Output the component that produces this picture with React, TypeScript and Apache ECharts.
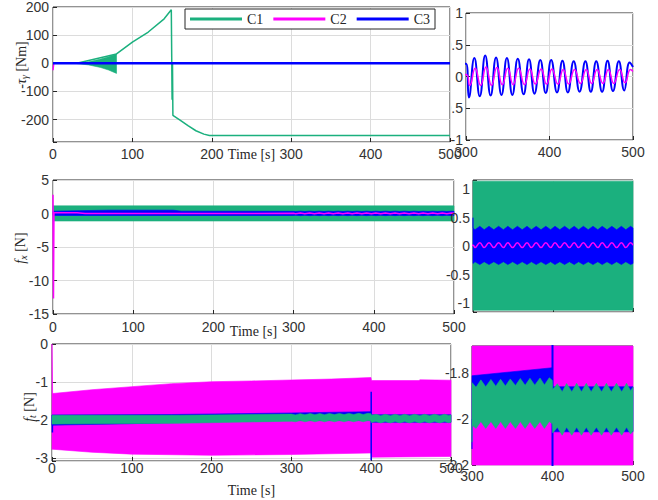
import React, { useEffect, useRef } from 'react';
import * as echarts from 'echarts';

const GREEN = '#1BB07E';
const MAGENTA = '#FF00FF';
const BLUE = '#0000FF';
const INK = '#262626';
const LABEL_INK = '#333333';

// ---------- Top panel: tau_gamma [Nm] ----------
const C1_TAU = [[0, 0], [30, 0], [80, 33], [100, 75], [120, 111], [140, 158], [149, 190], [150, -130], [150.5, 0], [151, -185], [160, -202], [170, -222], [180, -240], [190, -252], [197, -257], [500, -257]];
const C1_TAU_BAND_HI = [[30, 1], [45, 5], [60, 15], [70, 23], [80, 33]];
const C1_TAU_BAND_LO = [[30, -1], [45, -6], [60, -15], [70, -24], [80, -36]];
const C2_TAU_LEAD = [[0, -25], [1, 0]];
const C3_TAU_LEAD = [[0, 0]];
const TAU_T3 = [300, 303.5, 310, 316.5, 323, 329.5, 336, 342.5, 349, 355.5, 362, 369, 375.5, 382, 389, 395.5, 402, 409, 415.5, 422, 429, 436, 443, 449.5, 456, 463, 469.5, 476, 483, 489.5, 496, 500];
const C3_TAU_OSC = [0.2, -0.33, 0.29, -0.31, 0.33, -0.3, 0.3, -0.29, 0.29, -0.29, 0.28, -0.28, 0.27, -0.27, 0.26, -0.26, 0.26, -0.25, 0.25, -0.25, 0.24, -0.24, 0.24, -0.24, 0.24, -0.24, 0.25, -0.23, 0.24, -0.22, 0.22, 0.15];
const TAU_T2 = [300, 304.5, 311, 317.5, 324, 330.5, 337, 343.5, 350, 356.5, 363, 370, 376.5, 383, 390, 396.5, 403, 410, 416.5, 423, 430, 437, 444, 450.5, 457, 464, 470.5, 477, 484, 490.5, 497, 500];
const C2_TAU_OSC = [0.03, -0.14, 0.13, -0.14, 0.15, -0.14, 0.14, -0.13, 0.13, -0.13, 0.13, -0.13, 0.12, -0.12, 0.12, -0.12, 0.12, -0.12, 0.11, -0.12, 0.11, -0.11, 0.11, -0.11, 0.11, -0.11, 0.11, -0.11, 0.11, -0.1, 0.11, 0.08];

// ---------- Middle panel: f_x [N] ----------
const C1_FX_HI = [[0, 1.14], [500, 1.14]];
const C1_FX_LO = [[0, -1.12], [500, -1.12]];
const FX_T = [300, 302.5, 308.5, 314, 320, 326, 332, 338, 343.5, 349.5, 355.5, 361.5, 367.5, 373, 379, 385, 391, 397, 402.5, 408.5, 414.5, 420.5, 426.5, 432, 438, 444, 450, 456, 461.5, 467.5, 473.5, 479.5, 485.5, 491, 497, 500];
const C3_FX_HI_LEAD = [[0, 0.35], [70, 0.5], [150, 0.5], [160, 0.35]];
const C3_FX_HI_OSC = [0.32, 0.29, 0.35, 0.29, 0.35, 0.29, 0.35, 0.29, 0.35, 0.29, 0.35, 0.29, 0.35, 0.29, 0.35, 0.29, 0.35, 0.29, 0.35, 0.29, 0.35, 0.29, 0.35, 0.29, 0.35, 0.29, 0.35, 0.29, 0.35, 0.29, 0.35, 0.29, 0.35, 0.29, 0.35, 0.32];
const C3_FX_LO_LEAD = [[0, -0.3], [160, -0.3]];
const C3_FX_LO_OSC = [-0.3, -0.27, -0.32, -0.27, -0.32, -0.27, -0.32, -0.27, -0.32, -0.27, -0.32, -0.27, -0.32, -0.27, -0.32, -0.27, -0.32, -0.27, -0.32, -0.27, -0.32, -0.27, -0.32, -0.27, -0.32, -0.27, -0.32, -0.27, -0.32, -0.27, -0.32, -0.27, -0.32, -0.27, -0.32, -0.3];
const C2_FX_LEAD = [[0, 2.8], [0.6, -12.7], [1.2, 0.1], [30, 0.1], [40, 0.0]];
const C2_FX_OSC = [0.02, -0.02, 0.06, -0.02, 0.06, -0.02, 0.06, -0.02, 0.06, -0.02, 0.06, -0.02, 0.06, -0.02, 0.06, -0.02, 0.06, -0.02, 0.06, -0.02, 0.06, -0.02, 0.06, -0.02, 0.06, -0.02, 0.06, -0.02, 0.06, -0.02, 0.06, -0.02, 0.06, -0.02, 0.06, 0.02];

// ---------- Bottom panel: f_t [N] ----------
const C2_FT_HI = [[0, 0], [0.8, -1.3], [50, -1.2], [100, -1.12], [150, -1.04], [200, -0.99], [250, -0.97], [300, -0.945], [350, -0.92], [399.7, -0.88], [400.3, -0.96], [460, -0.96], [461, -0.94], [500, -0.95]];
const C2_FT_LO = [[0, -2.76], [50, -2.84], [100, -2.89], [200, -2.92], [300, -2.9], [399.7, -2.86], [400.3, -2.97], [500, -2.95]];
const C3_FT_HI = [[0, -1.86], [150, -1.85], [300, -1.81], [399.7, -1.775], [400.3, -1.858], [500, -1.858]];
const C3_FT_LO = [[0, -2.13], [100, -2.09], [200, -2.04], [300, -2.0], [399.7, -2.0], [400.3, -2.055], [500, -2.055]];
const C3_FT_SPIKE_0 = [[0.5, -1.86], [0.5, -2.32]];
const C3_FT_SPIKE_400 = [[400, -1.25], [400, -3.05]];
const FT_T = [300, 305, 311, 317, 323.5, 329.5, 335.5, 341.5, 347.5, 354, 360, 366, 372, 378, 384.5, 390, 396, 399.7, 400.3, 406, 412, 417.5, 424, 430, 436, 442, 448, 454.5, 461, 467, 473, 479.5, 486, 492, 497, 500];
const C1_FT_HI_LEAD = [[0, -1.87], [160, -1.87]];
const C1_FT_HI_OSC = [-1.84, -1.86, -1.828, -1.858, -1.826, -1.856, -1.825, -1.855, -1.824, -1.853, -1.822, -1.852, -1.821, -1.851, -1.82, -1.85, -1.819, -1.83, -1.87, -1.845, -1.88, -1.844, -1.88, -1.843, -1.88, -1.843, -1.88, -1.843, -1.88, -1.843, -1.88, -1.843, -1.88, -1.843, -1.875, -1.86];
const C1_FT_LO_LEAD = [[0, -2.1], [160, -2.08]];
const C1_FT_LO_OSC = [-2.025, -2.04, -2.01, -2.04, -2.01, -2.04, -2.01, -2.04, -2.01, -2.04, -2.01, -2.04, -2.01, -2.04, -2.01, -2.04, -2.01, -2.02, -2.06, -2.035, -2.07, -2.035, -2.07, -2.035, -2.07, -2.035, -2.07, -2.035, -2.07, -2.035, -2.07, -2.035, -2.07, -2.035, -2.065, -2.05];

const LEGEND_NAMES = ['C1', 'C2', 'C3'];
const X_NAME = 'Time [s]';

const zip = (ts: number[], vs: number[]) => ts.map((t, i) => [t, vs[i]]);

const C2_TAU = [...C2_TAU_LEAD, ...zip(TAU_T2, C2_TAU_OSC)];
const C3_TAU = [...C3_TAU_LEAD, ...zip(TAU_T3, C3_TAU_OSC)];
const C3_FX_HI = [...C3_FX_HI_LEAD, ...zip(FX_T, C3_FX_HI_OSC)];
const C3_FX_LO = [...C3_FX_LO_LEAD, ...zip(FX_T, C3_FX_LO_OSC)];
const C2_FX = [...C2_FX_LEAD, ...zip(FX_T, C2_FX_OSC)];
const C1_FT_HI = [...C1_FT_HI_LEAD, ...zip(FT_T, C1_FT_HI_OSC)];
const C1_FT_LO = [...C1_FT_LO_LEAD, ...zip(FT_T, C1_FT_LO_OSC)];

function band(name: string, color: string, hi: number[][], lo: number[][], idx: number, z: number) {
  return {
    type: 'custom',
    name,
    xAxisIndex: idx,
    yAxisIndex: idx,
    z,
    silent: true,
    data: [[hi[0][0], hi[0][1]]],
    renderItem: (params: any, api: any) => {
      const cs = params.coordSys;
      const clamp = (p: number[]) => [
        Math.min(Math.max(p[0], cs.x), cs.x + cs.width),
        Math.min(Math.max(p[1], cs.y), cs.y + cs.height),
      ];
      const pts = hi.map((p) => clamp(api.coord(p))).concat(
        lo.slice().reverse().map((p) => clamp(api.coord(p)))
      );
      return {
        type: 'polygon',
        shape: { points: pts },
        style: { fill: color, stroke: color, lineWidth: 0.6 },
      };
    },
  };
}

function line(name: string, color: string, data: any[], idx: number, width: number, z: number, smooth = false) {
  return {
    type: 'line',
    name,
    xAxisIndex: idx,
    yAxisIndex: idx,
    z,
    data,
    symbol: 'none',
    showSymbol: false,
    smooth: smooth ? 0.5 : false,
    lineStyle: { color, width },
    itemStyle: { color },
    silent: true,
  };
}

const GRIDS = [
  { left: 53, top: 7, width: 397, height: 135 },
  { left: 466, top: 13, width: 167, height: 127 },
  { left: 53, top: 180, width: 401, height: 134 },
  { left: 473, top: 180, width: 160, height: 132 },
  { left: 52, top: 344, width: 399, height: 117 },
  { left: 472, top: 346, width: 161, height: 119 },
];

const fmt = (step: number) => (v: number) => {
  const k = v / step;
  return Math.abs(k - Math.round(k)) < 1e-6 ? String(+v.toFixed(6)) : '';
};

const LABEL_FONT = "'Liberation Sans', Arial, sans-serif";
const SERIF = "'Liberation Serif', 'Times New Roman', serif";

function xAxis(i: number, min: number, max: number, margin: number, showLabel: boolean, name?: string, nameGap?: number) {
  const left = i % 2 === 0;
  return {
    type: 'value',
    gridIndex: i,
    position: 'bottom',
    min,
    max,
    interval: 100,
    z: left ? 1 : 0,
    axisLine: { show: false, onZero: false },
    axisTick: { show: true, inside: true, length: 4, lineStyle: { color: INK } },
    splitLine: { show: true, lineStyle: { color: '#dcdcdc', width: 1 } },
    axisLabel: { show: showLabel, color: LABEL_INK, fontFamily: LABEL_FONT, fontSize: 14, margin },
    name: name || '',
    nameLocation: 'middle',
    nameGap: nameGap || 0,
    nameMoveOverlap: false,
    nameTextStyle: { fontFamily: SERIF, fontSize: 14, color: INK },
  };
}

function yAxis(i: number, min: number, max: number, step: number, z: number, extra: any, mode: 'full' | 'nolabel' | 'labelonly' = 'full') {
  const left = i % 2 === 0;
  return {
    type: 'value',
    gridIndex: i,
    position: 'left',
    offset: 0,
    min,
    max,
    z,
    ...extra,
    axisLine: { show: false, onZero: false },
    axisTick: { show: mode !== 'labelonly', inside: true, length: 4, lineStyle: { color: INK } },
    splitLine: { show: mode !== 'labelonly', lineStyle: { color: '#dcdcdc', width: 1 } },
    axisLabel: {
      show: mode !== 'nolabel',
      color: LABEL_INK,
      fontFamily: LABEL_FONT,
      fontSize: 14,
      margin: left ? 4 : 3,
      formatter: fmt(step),
    },
  };
}

const labelRich = {
  i: { fontFamily: SERIF, fontStyle: 'italic', fontSize: 14, fill: INK },
  s: { fontFamily: SERIF, fontStyle: 'italic', fontSize: 10, fill: INK, padding: [7, 0, 0, 0] },
  n: { fontFamily: SERIF, fontSize: 14, fill: INK },
};

export default function App() {
  const ref = useRef<HTMLDivElement>(null);
  useEffect(() => {
    if (!ref.current) return;
    const chart = echarts.init(ref.current, undefined, { renderer: 'svg' });
    const option: any = {
      animation: false,
      backgroundColor: '#ffffff',
      grid: GRIDS.map((g, i) => ({
        ...g,
        show: true,
        z: i % 2 === 0 ? 1 : 0,
        backgroundColor: i % 2 === 0 ? '#ffffff' : 'transparent',
        borderColor: INK,
        borderWidth: 1,
      })),
      xAxis: [
        xAxis(0, 0, 500, 5, true, X_NAME, 5),
        xAxis(1, 300, 500, 5, true),
        xAxis(2, 0, 500, 6, true, X_NAME, 10),
        xAxis(3, 300, 500, 5, false),
        xAxis(4, 0, 500, 0, true, X_NAME, 22),
        xAxis(5, 300, 500, 4, true),
      ],
      yAxis: [
        yAxis(0, -280, 200, 100, 1, { splitNumber: 5 }),
        yAxis(1, -1, 1, 0.5, 0, { interval: 0.5 }),
        yAxis(2, -15, 5, 5, 1, { interval: 5 }),
        yAxis(3, -1.15, 1.16, 0.5, 0, { splitNumber: 5 }, 'nolabel'),
        yAxis(4, -3.07, 0, 1, 1, { splitNumber: 3 }),
        yAxis(5, -2.2, -1.68, 0.2, 0, { splitNumber: 3 }, 'nolabel'),
        // label-only overlays for the middle and bottom zoom panels (drawn on top)
        yAxis(3, -1.15, 1.16, 0.5, 8, { splitNumber: 5 }, 'labelonly'),
        yAxis(5, -2.2, -1.68, 0.2, 8, { splitNumber: 3 }, 'labelonly'),
      ],
      legend: {
        left: 185,
        top: 9,
        orient: 'horizontal',
        z: 10,
        padding: [3, 5, 3, 5],
        itemGap: 10,
        itemWidth: 52,
        itemHeight: 3,
        icon: 'rect',
        backgroundColor: '#ffffff',
        borderColor: INK,
        borderWidth: 1,
        selectedMode: false,
        textStyle: { fontFamily: SERIF, fontSize: 14, color: INK },
        data: [
          { name: LEGEND_NAMES[0], itemStyle: { color: GREEN } },
          { name: LEGEND_NAMES[1], itemStyle: { color: MAGENTA } },
          { name: LEGEND_NAMES[2], itemStyle: { color: BLUE } },
        ],
      },
      graphic: [
        {
          type: 'text', x: 21, y: 65, rotation: Math.PI / 2, z: 10,
          style: { text: '{i|-τ}{s|γ}{n| [Nm]}', align: 'center', verticalAlign: 'middle', fill: INK, rich: labelRich },
        },
        {
          type: 'text', x: 20, y: 248, rotation: Math.PI / 2, z: 10,
          style: { text: '{i|f}{s|x}{n| [N]}', align: 'center', verticalAlign: 'middle', fill: INK, rich: labelRich },
        },
        {
          type: 'text', x: 29, y: 407, rotation: Math.PI / 2, z: 10,
          style: { text: '{i|f}{s|t}{n| [N]}', align: 'center', verticalAlign: 'middle', fill: INK, rich: labelRich },
        },
      ],
      series: [
        // top-left
        band('C1 band', GREEN, C1_TAU_BAND_HI, C1_TAU_BAND_LO, 0, 2),
        line('C1', GREEN, C1_TAU, 0, 1.5, 3),
        line('C2', MAGENTA, C2_TAU, 0, 1.5, 4),
        line('C3', BLUE, C3_TAU, 0, 2.5, 5),
        // top-right
        line('C1', GREEN, C1_TAU, 1, 1.5, 3),
        line('C3', BLUE, C3_TAU, 1, 2, 4, true),
        line('C2', MAGENTA, C2_TAU, 1, 1.5, 5, true),
        // middle-left
        band('C1 band', GREEN, C1_FX_HI, C1_FX_LO, 2, 2),
        band('C3 band', BLUE, C3_FX_HI, C3_FX_LO, 2, 3),
        line('C2', MAGENTA, C2_FX, 2, 1.5, 4),
        // middle-right
        band('C1 band', GREEN, C1_FX_HI, C1_FX_LO, 3, 2),
        band('C3 band', BLUE, C3_FX_HI, C3_FX_LO, 3, 3),
        line('C2', MAGENTA, C2_FX, 3, 1.5, 4, true),
        // bottom-left
        band('C2 band', MAGENTA, C2_FT_HI, C2_FT_LO, 4, 2),
        band('C3 band', BLUE, C3_FT_HI, C3_FT_LO, 4, 3),
        line('C3', BLUE, C3_FT_SPIKE_0, 4, 1.5, 4),
        line('C3', BLUE, C3_FT_SPIKE_400, 4, 1.5, 4),
        band('C1 band', GREEN, C1_FT_HI, C1_FT_LO, 4, 5),
        // bottom-right
        band('C2 band', MAGENTA, C2_FT_HI, C2_FT_LO, 5, 2),
        band('C3 band', BLUE, C3_FT_HI, C3_FT_LO, 5, 3),
        line('C3', BLUE, C3_FT_SPIKE_400, 5, 2, 4),
        band('C1 band', GREEN, C1_FT_HI, C1_FT_LO, 5, 5),
      ],
    };
    chart.setOption(option);
    return () => chart.dispose();
  }, []);
  return (
    <div
      ref={ref}
      style={{ position: 'absolute', left: 0, top: 0, width: 658, height: 500, background: '#fff' }}
    />
  );
}
